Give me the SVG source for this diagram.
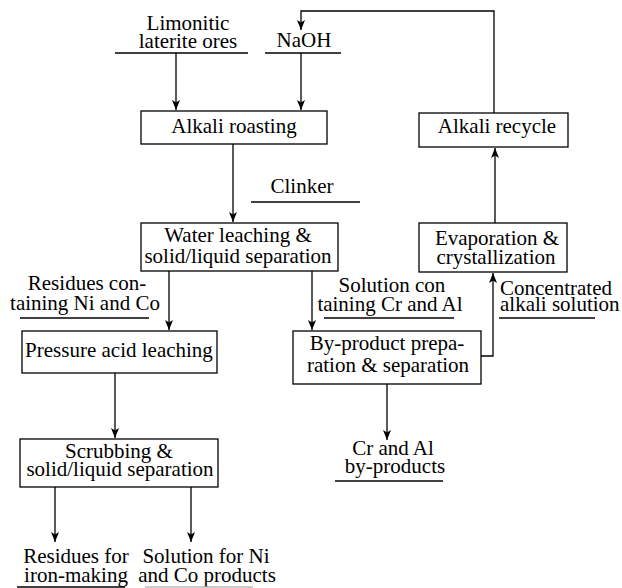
<svg xmlns="http://www.w3.org/2000/svg" width="622" height="588" viewBox="0 0 622 588">
<style>
text{font-family:'Liberation Serif','Times New Roman',serif;font-size:21px;fill:#000;text-anchor:middle}
.l{text-anchor:start}
.box{fill:#fff;stroke:#000;stroke-width:1.3}
.ul{stroke:#000;stroke-width:1.3}
.c{fill:none;stroke:#000;stroke-width:1.3}
</style>
<defs>
<marker id="ah" markerUnits="userSpaceOnUse" markerWidth="12" markerHeight="10" refX="10" refY="4" orient="auto">
<path d="M0,0 L10,4 L0,8 L2.5,4 z" fill="#000"/>
</marker>
</defs>
<g id="connectors">
<path class="c" d="M494,113 V11 H301 V30" marker-end="url(#ah)"/>
<path class="c" d="M176,53 V110" marker-end="url(#ah)"/>
<path class="c" d="M301,53 V110" marker-end="url(#ah)"/>
<path class="c" d="M233,144 V222" marker-end="url(#ah)"/>
<path class="c" d="M169,271 V330" marker-end="url(#ah)"/>
<path class="c" d="M312,271 V330" marker-end="url(#ah)"/>
<path class="c" d="M115,373 V438" marker-end="url(#ah)"/>
<path class="c" d="M55,487 V542" marker-end="url(#ah)"/>
<path class="c" d="M191,487 V542" marker-end="url(#ah)"/>
<path class="c" d="M387,384 V440" marker-end="url(#ah)"/>
<path class="c" d="M481,356 H493 V273" marker-end="url(#ah)"/>
<path class="c" d="M495,223 V148" marker-end="url(#ah)"/>
</g>
<g id="ores">
<text><tspan x="188" y="30">Limonitic</tspan><tspan x="188" y="48">laterite ores</tspan></text>
<line class="ul" x1="115" y1="53" x2="248" y2="53"/>
</g>
<g id="naoh">
<text x="304" y="47">NaOH</text>
<line class="ul" x1="265" y1="53" x2="341" y2="53"/>
</g>
<g id="roasting">
<rect class="box" x="141" y="111" width="186" height="33"/>
<text x="234" y="133">Alkali roasting</text>
</g>
<g id="clinker">
<text x="302" y="193">Clinker</text>
<line class="ul" x1="251" y1="202" x2="360" y2="202"/>
</g>
<g id="water">
<rect class="box" x="141" y="223" width="197" height="48"/>
<text><tspan x="238" y="242">Water leaching &amp;</tspan><tspan x="238" y="263">solid/liquid separation</tspan></text>
</g>
<g id="residues">
<text><tspan x="87" y="290">Residues con-</tspan><tspan x="85" y="310">taining Ni and Co</tspan></text>
<line class="ul" x1="20" y1="318" x2="149" y2="318"/>
</g>
<g id="pressure">
<rect class="box" x="22" y="331" width="195" height="42"/>
<text x="119" y="357">Pressure acid leaching</text>
</g>
<g id="solution">
<text><tspan x="392" y="292">Solution con</tspan><tspan x="390" y="311">taining Cr and Al</tspan></text>
<line class="ul" x1="324" y1="318" x2="454" y2="318"/>
</g>
<g id="byproduct">
<rect class="box" x="293" y="331" width="188" height="53"/>
<text><tspan x="387" y="350">By-product prepa-</tspan><tspan x="388" y="372">ration &amp; separation</tspan></text>
</g>
<g id="evaporation">
<rect class="box" x="419" y="223" width="148" height="49"/>
<text><tspan x="497" y="245">Evaporation &amp;</tspan><tspan x="496" y="264">crystallization</tspan></text>
</g>
<g id="concentrated">
<text class="l"><tspan x="500" y="295">Concentrated</tspan><tspan x="500" y="311">alkali solution</tspan></text>
<line class="ul" x1="499" y1="318" x2="595" y2="318"/>
</g>
<g id="recycle">
<rect class="box" x="419" y="113" width="149" height="34"/>
<text x="497" y="133">Alkali recycle</text>
</g>
<g id="scrubbing">
<rect class="box" x="20" y="439" width="198" height="48"/>
<text><tspan x="119" y="458">Scrubbing &amp;</tspan><tspan x="120" y="476">solid/liquid separation</tspan></text>
</g>
<g id="cral">
<text><tspan x="393" y="455">Cr and Al</tspan><tspan x="395" y="473">by-products</tspan></text>
<line class="ul" x1="335" y1="481" x2="443" y2="481"/>
</g>
<g id="iron">
<text><tspan x="76" y="563">Residues for</tspan><tspan x="76" y="582">iron-making</tspan></text>
<line class="ul" x1="17" y1="587" x2="125" y2="587"/>
</g>
<g id="nico">
<text><tspan x="206" y="563">Solution for Ni</tspan><tspan x="207" y="582">and Co products</tspan></text>
<line class="ul" x1="145" y1="587" x2="253" y2="587" style="stroke:#bbb"/>
</g>
</svg>
